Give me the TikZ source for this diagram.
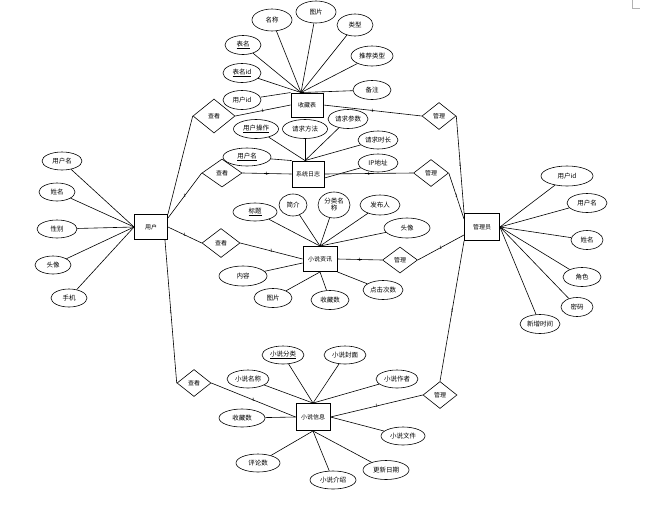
\documentclass[tikz,border=0pt]{standalone}
\usepackage{fontspec}
\newfontfamily\cjk{Noto Sans CJK SC}
\usetikzlibrary{shapes.geometric, positioning}
\tikzset{
  entity/.style={rectangle, draw, line width=0.9pt, minimum width=33pt,
    minimum height=25pt, inner sep=1pt, font=\cjk\fontsize{6}{7}\selectfont},
  attr/.style={ellipse, draw, line width=0.6pt, minimum width=38pt,
    minimum height=19pt, inner sep=0pt, font=\cjk\fontsize{6.5}{7}\selectfont},
  rel/.style={diamond, draw, line width=0.6pt, minimum width=38pt,
    minimum height=28pt, inner sep=0pt, font=\cjk\fontsize{6}{7}\selectfont},
  one/.style={font=\fontsize{5}{5}\selectfont, inner sep=0.4pt},
  link/.style={line width=0.6pt}
}

\begin{document}
\begin{tikzpicture}[x=1pt, y=-1pt]
  \useasboundingbox (0,0) rectangle (669,504);
  % corner mark
  \draw[gray!60, line width=0.4pt] (632,0) -- (632,8) -- (640,8);

  % Entities
  \node[entity] (user) at (151,227) {用户};
  \node[entity, minimum width=32pt, minimum height=24pt] (fav) at (307,105) {收藏表};
  \node[entity, minimum width=32pt, minimum height=26pt] (syslog) at (308,174) {系统日志};
  \node[entity, minimum width=34pt, minimum height=25pt] (news) at (320,259) {小说资讯};
  \node[entity, minimum width=34pt, minimum height=27pt] (novel) at (313,417) {小说信息};
  \node[entity, minimum width=35pt, minimum height=27pt] (admin) at (482,227) {管理员};

  % Relations
  \node[rel, minimum width=42pt, minimum height=34pt] (favU) at (214,116) {查看};
  \node[rel, minimum width=34pt, minimum height=27pt] (favA) at (439,116) {管理};
  \node[rel, minimum width=40pt, minimum height=28pt] (logU) at (222,173) {查看};
  \node[rel, minimum width=35pt, minimum height=27pt] (logA) at (431,173) {管理};
  \node[rel, minimum width=38pt, minimum height=29pt] (newsU) at (221,243) {查看};
  \node[rel, minimum width=35pt, minimum height=26pt] (newsA) at (400,260) {管理};
  \node[rel, minimum width=34pt, minimum height=27pt] (novU) at (194,383) {查看};
  \node[rel, minimum width=34pt, minimum height=27pt] (novA) at (440,395) {管理};

  % User side links
  \draw[link] (user.north east) -- node[one]{1} (favU.west);
  \draw[link] ([yshift=-4pt]user.north east) -- node[one]{1} (logU.west);
  \draw[link] (user.east) -- node[one]{1} (newsU.west);
  \draw[link] ([xshift=-3pt]user.south east) -- node[one]{1} (novU.west);
  \draw[link] (favU.east) -- node[one]{1} (fav.west);
  \draw[link] (logU.east) -- node[one]{1} (syslog.west);
  \draw[link] (newsU.east) -- node[one]{1} (news.west);
  \draw[link] (novU.east) -- node[one]{1} (novel.west);

  % Admin side links
  \draw[link] (fav.east) -- node[one]{1} (favA.west);
  \draw[link] (syslog.east) -- node[one]{1} (logA.west);
  \draw[link] (news.east) -- node[one]{1} (newsA.west);
  \draw[link] (novel.east) -- node[one]{1} (novA.west);
  \draw[link] (favA.east) -- node[one]{1} (admin.north west);
  \draw[link] (logA.east) -- node[one]{1} ([yshift=-6pt]admin.north west);
  \draw[link] (newsA.east) -- node[one]{1} ([yshift=6pt]admin.south west);
  \draw[link] (novA.north) -- node[one]{1} (admin.south west);

  % User attributes
  \node[attr, minimum width=40pt, minimum height=18pt] (u1) at (62,161) {用户名};
  \node[attr, minimum width=36pt, minimum height=18pt] (u2) at (57,192) {姓名};
  \node[attr, minimum width=40pt, minimum height=18pt] (u3) at (57,229) {性别};
  \node[attr, minimum width=36pt, minimum height=18pt] (u4) at (53,265) {头像};
  \node[attr, minimum width=36pt, minimum height=18pt] (u5) at (69,298) {手机};
  \foreach \a in {u1,u2,u3,u4,u5}
    \draw[link] (\a) -- (user.west);

  % Favourite attributes
  \node[attr, minimum width=40pt, minimum height=22pt] (f1) at (272,20) {名称};
  \node[attr, minimum width=40pt, minimum height=22pt] (f2) at (316,12) {图片};
  \node[attr, minimum width=36pt, minimum height=22pt] (f3) at (355,25) {类型};
  \node[attr, minimum width=42pt, minimum height=20pt] (f4) at (372,56) {推荐类型};
  \node[attr, minimum width=36pt, minimum height=19pt] (f5) at (243,45) {\underline{表名}};
  \node[attr, minimum width=38pt, minimum height=19pt] (f6) at (242,73) {\underline{表名id}};
  \node[attr, minimum width=38pt, minimum height=19pt] (f7) at (242,100) {用户id};
  \node[attr, minimum width=38pt, minimum height=19pt] (f8) at (372,90) {备注};
  \foreach \a in {f1,f2,f3,f4,f5,f6,f8}
    \draw[link] (\a) -- ([xshift=-6pt]fav.north);
  \draw[link] (f7) -- (fav.north west);

  % Log attributes
  \node[attr, minimum width=48pt, minimum height=18pt] (l1) at (247,157) {\underline{用户名}};
  \node[attr, minimum width=45pt, minimum height=19pt] (l2) at (256,129) {\underline{用户操作}};
  \node[attr, minimum width=45pt, minimum height=19pt] (l3) at (305,129) {请求方法};
  \node[attr, minimum width=40pt, minimum height=19pt] (l4) at (348,119) {请求参数};
  \node[attr, minimum width=40pt, minimum height=18pt] (l5) at (378,140) {请求时长};
  \node[attr, minimum width=40pt, minimum height=18pt] (l6) at (378,163) {IP地址};
  \draw[link] (l1) -- (syslog.north west);
  \foreach \a in {l2,l3,l4,l5}
    \draw[link] (\a) -- ([xshift=-3pt]syslog.north);
  \draw[link] (l6) -- ([yshift=-4pt]syslog.east);

  % News attributes
  \node[attr, minimum width=44pt, minimum height=18pt] (n1) at (255,212) {\underline{标题}};
  \node[attr, minimum width=28pt, minimum height=22pt] (n2) at (293,205) {简介};
  \node[attr, minimum width=32pt, minimum height=26pt, align=center] (n3) at (334,205) {分类名\\称};
  \node[attr, minimum width=40pt, minimum height=20pt] (n4) at (380,205) {发布人};
  \node[attr, minimum width=46pt, minimum height=20pt] (n5) at (407,228) {头像};
  \node[attr, minimum width=48pt, minimum height=20pt] (n6) at (243,276) {内容};
  \node[attr, minimum width=38pt, minimum height=19pt] (n7) at (273,298) {图片};
  \node[attr, minimum width=38pt, minimum height=19pt] (n8) at (330,300) {收藏数};
  \node[attr, minimum width=40pt, minimum height=19pt] (n9) at (383,290) {点击次数};
  \foreach \a in {n1,n2,n3,n4,n5}
    \draw[link] (\a) -- (news.north);
  \draw[link] (n6) -- ([yshift=-4pt]news.west);
  \foreach \a in {n7,n8}
    \draw[link] (\a) -- (news.south);
  \draw[link] (n9) -- (news.south east);

  % Novel attributes
  \node[attr, minimum width=42pt, minimum height=18pt] (v1) at (283,355) {\underline{小说分类}};
  \node[attr, minimum width=42pt, minimum height=18pt] (v2) at (345,355) {小说封面};
  \node[attr, minimum width=42pt, minimum height=18pt] (v3) at (248,379) {小说名称};
  \node[attr, minimum width=42pt, minimum height=18pt] (v4) at (397,379) {小说作者};
  \node[attr, minimum width=46pt, minimum height=18pt] (v5) at (242,418) {收藏数};
  \node[attr, minimum width=44pt, minimum height=18pt] (v6) at (403,436) {小说文件};
  \node[attr, minimum width=44pt, minimum height=18pt] (v7) at (258,463) {评论数};
  \node[attr, minimum width=46pt, minimum height=19pt] (v8) at (386,470) {更新日期};
  \node[attr, minimum width=46pt, minimum height=18pt] (v9) at (333,480) {小说介绍};
  \foreach \a in {v1,v2,v3,v4}
    \draw[link] (\a) -- (novel.north);
  \draw[link] (v5) -- (novel.west);
  \draw[link] (v6) -- (novel.east);
  \foreach \a in {v7,v8,v9}
    \draw[link] (\a) -- (novel.south);

  % Admin attributes
  \node[attr, minimum width=52pt, minimum height=20pt] (a1) at (567,176) {用户id};
  \node[attr, minimum width=40pt, minimum height=19pt] (a2) at (587,203) {用户名};
  \node[attr, minimum width=32pt, minimum height=19pt] (a3) at (587,240) {姓名};
  \node[attr, minimum width=38pt, minimum height=19pt] (a4) at (582,277) {角色};
  \node[attr, minimum width=32pt, minimum height=19pt] (a5) at (577,307) {密码};
  \node[attr, minimum width=40pt, minimum height=19pt] (a6) at (540,324) {新增时间};
  \foreach \a in {a1,a2,a3,a4,a5,a6}
    \draw[link] (\a) -- (admin.east);
\end{tikzpicture}
\end{document}
